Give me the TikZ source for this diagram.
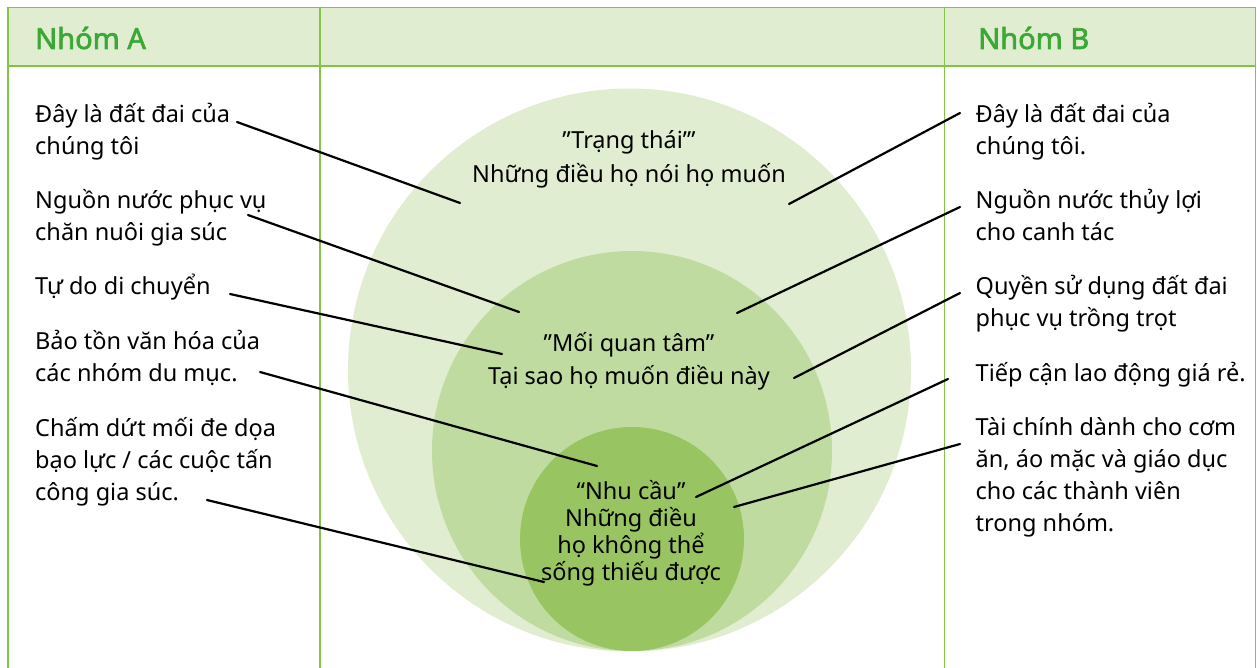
\documentclass[tikz,border=0pt]{standalone}
\usepackage{fontspec}
\setmainfont{Noto Sans}
\newfontfamily\headfont{Noto Sans}[FakeBold=2.2]
\definecolor{framegreen}{RGB}{130,196,70}
\definecolor{headgreen}{RGB}{58,168,52}
\definecolor{headfill}{RGB}{225,237,209}
\definecolor{ringpos}{RGB}{225,237,209}
\definecolor{ringint}{RGB}{192,219,160}
\definecolor{ringneed}{RGB}{152,196,98}
\newcommand{\topstrut}{\rule{0pt}{27pt}}
\newcommand{\txtfont}[1]{\fontsize{23.5}{#1}\selectfont\lineskiplimit=-100pt}
\tikzset{
    frame/.style={draw=framegreen, line width=1.5pt},
    head/.style={anchor=base west, inner sep=0pt, text=headgreen, font=\headfont\fontsize{29}{32}\selectfont},
    side/.style={anchor=north west, inner sep=0pt, align=left, font=\txtfont{32}, execute at begin node=\topstrut},
    ring/.style={anchor=north, inner sep=0pt, align=center, execute at begin node=\topstrut},
    link/.style={line width=2.2pt, line cap=round}
}
\begin{document}
\begin{tikzpicture}[x=1pt, y=-1pt]
    \useasboundingbox (0,0) rectangle (1257,668);

    % header band and the three circles
    \fill[headfill] (8,7.5) rectangle (1255.5,66);
    \fill[ringpos] (629.5,370) circle[radius=281.5pt];
    \fill[ringint] (632,451) circle[radius=200pt];
    \fill[ringneed] (632,539) circle[radius=112pt];

    % table rules
    \draw[frame] (8,668) -- (8,7.5) -- (1255.5,7.5) -- (1255.5,668);
    \draw[frame] (8,66) -- (1255.5,66);
    \draw[frame] (320,7.5) -- (320,668);
    \draw[frame] (944.5,7.5) -- (944.5,668);

    \node[head] (headA) at (35,49) {Nhóm A};
    \node[head] (headB) at (978,49) {Nhóm B};

    % group A
    \node[side] (a1) at (35,102.7) {Đây là đất đai của\\chúng tôi};
    \node[side] (a2) at (35,189.3) {Nguồn nước phục vụ\\chăn nuôi gia súc};
    \node[side] (a3) at (35,267) {Tự do di chuyển};
    \node[side] (a4) at (35,330) {Bảo tồn văn hóa của\\các nhóm du mục.};
    \node[side] (a5) at (35,417) {Chấm dứt mối đe dọa\\bạo lực / các cuộc tấn\\công gia súc.};

    % group B
    \node[side] (b1) at (975.5,102.7) {Đây là đất đai của\\chúng tôi.};
    \node[side] (b2) at (975.5,189) {Nguồn nước thủy lợi\\cho canh tác};
    \node[side] (b3) at (975.5,275) {Quyền sử dụng đất đai\\phục vụ trồng trọt};
    \node[side] (b4) at (975.5,354) {Tiếp cận lao động giá rẻ.};
    \node[side] (b5) at (975.5,417) {Tài chính dành cho cơm\\ăn, áo mặc và giáo dục\\cho các thành viên\\trong nhóm.};

    % circle labels
    \node[ring, font=\txtfont{34}] (pos) at (629,130.5) {”Trạng thái’”\\Những điều họ nói họ muốn};
    \node[ring, font=\txtfont{33}] (int) at (629,332.5) {”Mối quan tâm”\\Tại sao họ muốn điều này};
    \node[ring, font=\txtfont{27}] (need) at (631,480.5) {“Nhu cầu”\\Những điều\\họ không thể\\sống thiếu được};

    % connector ends
    \coordinate (a1s) at (237,122);  \coordinate (a1e) at (460,203);
    \coordinate (a2s) at (248,215);  \coordinate (a2e) at (519,312);
    \coordinate (a3s) at (230,294);  \coordinate (a3e) at (502,354);
    \coordinate (a4s) at (260,372);  \coordinate (a4e) at (597,466);
    \coordinate (a5s) at (207,500);  \coordinate (a5e) at (544,582);
    \coordinate (b1s) at (960,113);  \coordinate (b1e) at (789,204);
    \coordinate (b2s) at (960,207);  \coordinate (b2e) at (737,313);
    \coordinate (b3s) at (960,293);  \coordinate (b3e) at (794,378);
    \coordinate (b4s) at (948,379);  \coordinate (b4e) at (696,497);
    \coordinate (b5s) at (960,444);  \coordinate (b5e) at (734,507);

    \draw[link] (a1s) -- (a1e);
    \draw[link] (a2s) -- (a2e);
    \draw[link] (a3s) -- (a3e);
    \draw[link] (a4s) -- (a4e);
    \draw[link] (a5s) -- (a5e);
    \draw[link] (b1s) -- (b1e);
    \draw[link] (b2s) -- (b2e);
    \draw[link] (b3s) -- (b3e);
    \draw[link] (b4s) -- (b4e);
    \draw[link] (b5s) -- (b5e);
\end{tikzpicture}
\end{document}
